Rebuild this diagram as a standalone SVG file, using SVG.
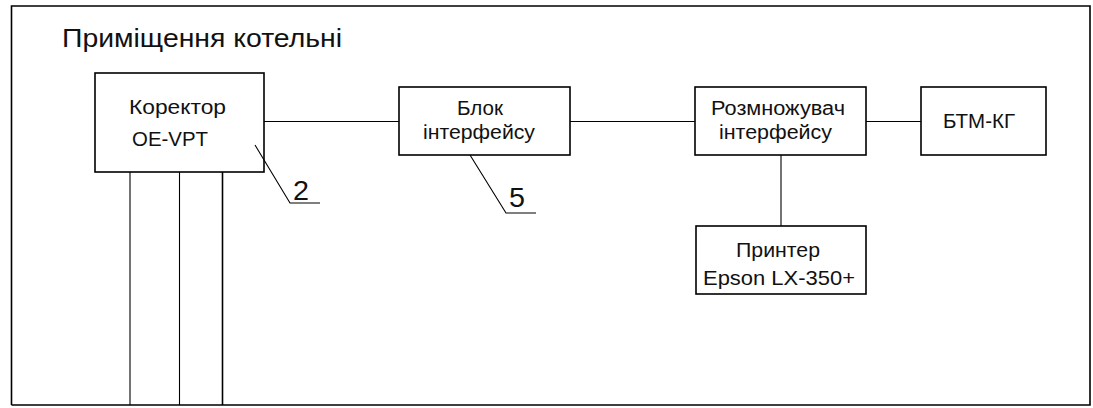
<svg xmlns="http://www.w3.org/2000/svg" width="1093" height="408" viewBox="0 0 1093 408">
  <style>
    .box { fill: #fff; stroke: #000; stroke-width: 1.6; }
    .wire { fill: none; stroke: #000; stroke-width: 1.1; }
    .frame { fill: none; stroke: #000; stroke-width: 1.6; }
    .lbl { font-family: "Liberation Sans", "DejaVu Sans", sans-serif; font-size: 21px; fill: #111; }
    .lbl2 { font-family: "Liberation Sans", "DejaVu Sans", sans-serif; font-size: 20px; fill: #111; }
    .pos { font-family: "Liberation Sans", "DejaVu Sans", sans-serif; font-size: 27px; fill: #111; }
    .title { font-family: "Liberation Sans", "DejaVu Sans", sans-serif; font-size: 26px; fill: #111; }
  </style>

  <rect width="1093" height="408" fill="#fff"/>

  <!-- room boundary -->
  <g id="room">
    <polyline class="frame" points="11.5,405 11.5,6 1090,6 1090,405 11.5,405"/>
    <text class="title" x="62" y="47" textLength="280" lengthAdjust="spacingAndGlyphs">Приміщення котельні</text>
  </g>

  <!-- connectors -->
  <g id="connectors">
    <line class="wire" x1="264" y1="121.5" x2="399" y2="121.5"/>
    <line class="wire" x1="570" y1="121.5" x2="695" y2="121.5"/>
    <line class="wire" x1="866" y1="121.5" x2="921" y2="121.5"/>
    <line class="wire" x1="781" y1="155" x2="781" y2="226"/>
    <line class="wire" x1="130" y1="172" x2="130" y2="405"/>
    <line class="wire" x1="179.5" y1="172" x2="179.5" y2="405"/>
    <line class="wire" x1="222.5" y1="172" x2="222.5" y2="405" style="stroke-width:1.6"/>
  </g>

  <!-- corrector -->
  <g id="corrector">
    <rect class="box" x="95" y="73" width="169" height="99"/>
    <text class="lbl" x="129" y="114" textLength="97" lengthAdjust="spacingAndGlyphs">Коректор</text>
    <text class="lbl" x="132" y="146" textLength="76" lengthAdjust="spacingAndGlyphs">OE-VPT</text>
  </g>

  <!-- position 2 leader -->
  <g id="pos2">
    <polyline class="wire" points="255,145 290,203 320,203"/>
    <text class="pos" x="293" y="200" textLength="16" lengthAdjust="spacingAndGlyphs">2</text>
  </g>

  <!-- interface unit -->
  <g id="interface-unit">
    <rect class="box" x="399" y="87" width="171" height="68"/>
    <text class="lbl2" x="457" y="115" textLength="46" lengthAdjust="spacingAndGlyphs">Блок</text>
    <text class="lbl2" x="423" y="139" textLength="112" lengthAdjust="spacingAndGlyphs">інтерфейсу</text>
  </g>

  <!-- position 5 leader -->
  <g id="pos5">
    <polyline class="wire" points="470,155 506,213 536,213"/>
    <text class="pos" x="509" y="207" textLength="16" lengthAdjust="spacingAndGlyphs">5</text>
  </g>

  <!-- interface splitter -->
  <g id="splitter">
    <rect class="box" x="695" y="87" width="171" height="68"/>
    <text class="lbl2" x="711" y="115" textLength="134" lengthAdjust="spacingAndGlyphs">Розмножувач</text>
    <text class="lbl2" x="719" y="139" textLength="113" lengthAdjust="spacingAndGlyphs">інтерфейсу</text>
  </g>

  <!-- BTM-KG -->
  <g id="btm-kg">
    <rect class="box" x="921" y="87" width="125" height="68"/>
    <text class="lbl" x="943" y="128" textLength="72" lengthAdjust="spacingAndGlyphs">БТМ-КГ</text>
  </g>

  <!-- printer -->
  <g id="printer">
    <rect class="box" x="696" y="226" width="170" height="68"/>
    <text class="lbl" x="736" y="257" textLength="84" lengthAdjust="spacingAndGlyphs">Принтер</text>
    <text class="lbl" x="703" y="285" textLength="152" lengthAdjust="spacingAndGlyphs">Epson LX-350+</text>
  </g>
</svg>
